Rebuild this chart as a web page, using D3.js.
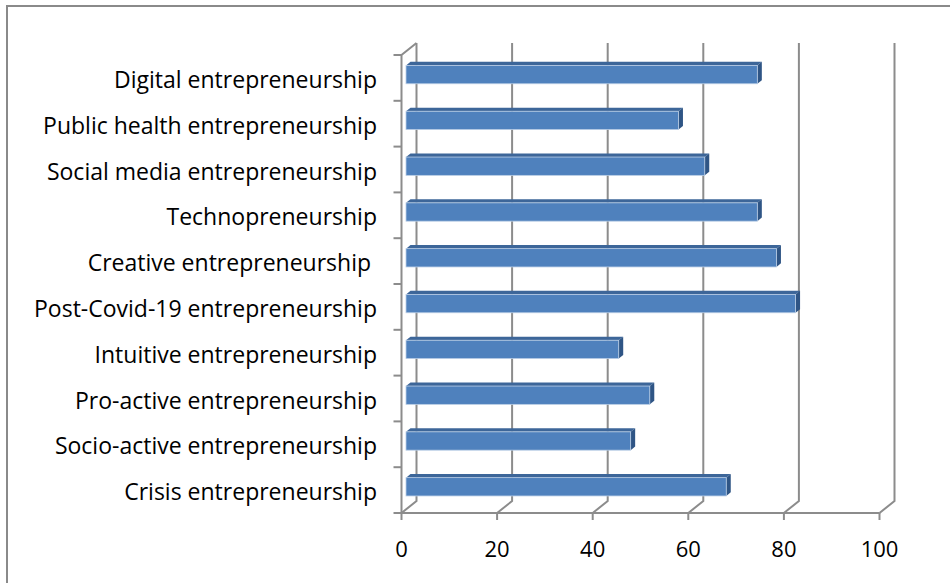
<!DOCTYPE html>
<html>
<head>
<meta charset="utf-8">
<script src="https://cdn.jsdelivr.net/npm/d3@7"></script>
<style>
  body { margin: 0; background: #fff; }
  svg { display: block; }
  text { font-family: "Open Sans", sans-serif; fill: #000; }
</style>
</head>
<body>
<svg id="chart" width="950" height="583"></svg>
<script>
// categories, top to bottom as drawn
var categories = [
  'Digital entrepreneurship',
  'Public health entrepreneurship',
  'Social media entrepreneurship',
  'Technopreneurship',
  'Creative entrepreneurship ',
  'Post-Covid-19 entrepreneurship',
  'Intuitive entrepreneurship',
  'Pro-active entrepreneurship',
  'Socio-active entrepreneurship',
  'Crisis entrepreneurship'
];
var values = [73.5, 57, 62.5, 73.5, 77.5, 81.5, 44.5, 51, 47, 67];
var xTicks = [0, 20, 40, 60, 80, 100];

var svg = d3.select('#chart');

// cadre extérieur (coupé à droite et en bas)
svg.append('rect')
  .attr('x', 7).attr('y', 6)
  .attr('width', 960).attr('height', 600)
  .attr('fill', 'none').attr('stroke', '#8a8a8a').attr('stroke-width', 2);

// échelles (plan avant)
var x = d3.scaleLinear().domain([0, 100]).range([401.5, 879.5]);
var y = d3.scaleBand().domain(categories).range([55, 513])
  .paddingInner(0.6).paddingOuter(0.3);

// profondeur du mur du fond et des barres
var wall = {dx: 15, dy: -12};
var barFront = {dx: 4.5, dy: -3.3};
var barDepth = {dx: 4.5, dy: -3.6};
var gridColor = '#8c8c8c';

var g = svg.append('g');

// lignes de grille sur le mur du fond + diagonale vers le sol
g.selectAll('.grid').data(xTicks).enter().append('path')
  .attr('class', 'grid')
  .attr('fill', 'none')
  .attr('stroke', gridColor)
  .attr('stroke-width', 2)
  .attr('d', function(d) {
    return 'M' + (x(d) + wall.dx) + ',' + (55 + wall.dy) +
      'L' + (x(d) + wall.dx) + ',' + (513 + wall.dy) +
      'L' + x(d) + ',' + 513;
  });

// axe vertical (avant) + diagonale en haut
g.append('path')
  .attr('fill', 'none').attr('stroke', gridColor).attr('stroke-width', 2)
  .attr('d', 'M' + (x(0) + wall.dx) + ',' + (55 + wall.dy) + 'L' + x(0) + ',55L' + x(0) + ',513');

// sol : ligne avant
g.append('line')
  .attr('x1', x(0)).attr('x2', x(100)).attr('y1', 513).attr('y2', 513)
  .attr('stroke', gridColor).attr('stroke-width', 2);

// graduations de l'axe horizontal
g.selectAll('.xtick').data(xTicks).enter().append('line')
  .attr('class', 'xtick')
  .attr('x1', d => x(d)).attr('x2', d => x(d))
  .attr('y1', 513).attr('y2', 520)
  .attr('stroke', gridColor).attr('stroke-width', 2);

// graduations de l'axe vertical (limites des catégories)
var step = y.step();
g.selectAll('.ytick').data(d3.range(categories.length + 1)).enter().append('line')
  .attr('class', 'ytick')
  .attr('x1', x(0) - 8).attr('x2', x(0))
  .attr('y1', d => 55 + d * step).attr('y2', d => 55 + d * step)
  .attr('stroke', gridColor).attr('stroke-width', 2);

// barres 3D
var bars = g.selectAll('.bar').data(categories).enter().append('g').attr('class', 'bar');
bars.each(function(c, i) {
  var b = d3.select(this);
  var x0 = x(0) + barFront.dx;
  var x1 = x(values[i]) + barFront.dx;
  var top = y(c) + barFront.dy;
  var h = y.bandwidth();
  // face du dessus
  b.append('path')
    .attr('fill', '#3d6699')
    .attr('d', 'M' + x0 + ',' + top + 'L' + x1 + ',' + top +
      'L' + (x1 + barDepth.dx) + ',' + (top + barDepth.dy) +
      'L' + (x0 + barDepth.dx) + ',' + (top + barDepth.dy) + 'Z');
  // face de côté
  b.append('path')
    .attr('fill', '#2f5585')
    .attr('d', 'M' + x1 + ',' + top + 'L' + (x1 + barDepth.dx) + ',' + (top + barDepth.dy) +
      'L' + (x1 + barDepth.dx) + ',' + (top + h + barDepth.dy) +
      'L' + x1 + ',' + (top + h) + 'Z');
  // face avant
  b.append('rect')
    .attr('x', x0).attr('y', top)
    .attr('width', x1 - x0).attr('height', h)
    .attr('fill', '#4f81bd')
    .attr('stroke', '#b9cde5').attr('stroke-width', 0.8);
});

// libellés des catégories
g.selectAll('.ylabel').data(categories).enter().append('text')
  .attr('class', 'ylabel')
  .attr('x', 377)
  .attr('y', d => y(d) + y.bandwidth() / 2 + 2)
  .attr('dy', '0.35em')
  .attr('text-anchor', 'end')
  .style('white-space', 'pre')
  .style('font-size', '23px')
  .text(d => d);

// libellés de l'axe horizontal
g.selectAll('.xlabel').data(xTicks).enter().append('text')
  .attr('class', 'xlabel')
  .attr('x', d => x(d))
  .attr('y', 557)
  .attr('text-anchor', 'middle')
  .style('font-size', '22px')
  .text(d => d);
</script>
</body>
</html>
